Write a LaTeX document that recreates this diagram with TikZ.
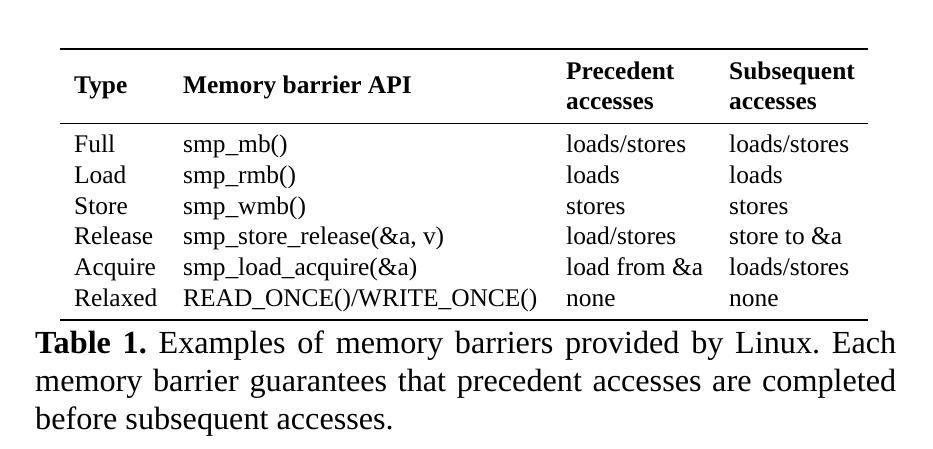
\documentclass[tikz,border=0pt]{standalone}
\usepackage{fontspec}
\setmainfont{Liberation Serif}
\usetikzlibrary{positioning}
\frenchspacing
\tikzset{
	cell style/.style={
		anchor=base west,
		inner sep=0pt,
		font=\fontsize{25.4}{30.5}\selectfont
	},
	head style/.style={
		cell style,
		font=\fontsize{25.4}{30.5}\selectfont\bfseries
	},
	caption style/.style={
		anchor=base west,
		inner sep=0pt,
		font=\fontsize{32.2}{38}\selectfont
	},
	thick rule/.style={line width=1.7pt},
	thin rule/.style={line width=0.9pt}
}

\begin{document}
\begin{tikzpicture}[x=1pt, y=-1pt]
		
		% --- 1. Page frame ---
		\useasboundingbox (0,0) rectangle (933,449);
		
		% --- 2. Rules of the table ---
		\coordinate (TopL) at (60,49);
		\coordinate (TopR) at (868,49);
		\coordinate (MidL) at (60,123.5);
		\coordinate (MidR) at (868,123.5);
		\coordinate (BotL) at (60,320);
		\coordinate (BotR) at (868,320);
		\draw[thick rule] (TopL) -- (TopR);
		\draw[thin rule] (MidL) -- (MidR);
		\draw[thick rule] (BotL) -- (BotR);
		
		% --- 3. Header row ---
		\node[head style] (hType) at (74,94) {Type};
		\node[head style] (hApi) at (183,94) {Memory barrier API};
		\node[head style] (hPre) at (566,80) {Precedent};
		\node[head style] (hPreB) at (566,110) {accesses};
		\node[head style] (hSub) at (729,80) {Subsequent};
		\node[head style] (hSubB) at (729,110) {accesses};
		
		% --- 4. Body rows ---
		\foreach \kind/\api/\pre/\post [count=\i] in {
			Full/{smp\_mb()}/{loads/stores}/{loads/stores},
			Load/{smp\_rmb()}/loads/loads,
			Store/{smp\_wmb()}/stores/stores,
			Release/{smp\_store\_release(\&a, v)}/{load/stores}/{store to \&a},
			Acquire/{smp\_load\_acquire(\&a)}/{load from \&a}/{loads/stores},
			Relaxed/{READ\_ONCE()/WRITE\_ONCE()}/none/none
		} {
			\pgfmathsetmacro{\rowy}{153+30.6*(\i-1)}
			\node[cell style] (type\i) at (74,\rowy) {\kind};
			\node[cell style] (api\i) at (183,\rowy) {\api};
			\node[cell style] (pre\i) at (566,\rowy) {\pre};
			\node[cell style] (sub\i) at (729,\rowy) {\post};
		}
		
		% --- 5. Caption ---
		\node[caption style] (cap1) at (35,353)
		{\makebox[861pt][s]{\textbf{Table 1.} Examples of memory barriers provided by Linux. Each}};
		\node[caption style] (cap2) at (35,391)
		{\makebox[861pt][s]{memory barrier guarantees that precedent accesses are completed}};
		\node[caption style] (cap3) at (35,429)
		{before subsequent accesses.};
		
	\end{tikzpicture}
\end{document}
